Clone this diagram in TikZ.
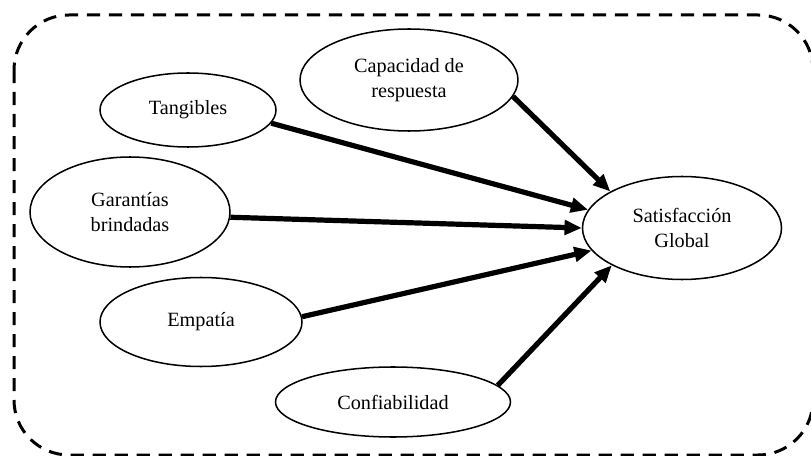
\documentclass[tikz,border=0pt]{standalone}
\usepackage{fontspec}
\setmainfont{Liberation Serif}
\usetikzlibrary{shapes.geometric,arrows.meta}

\begin{document}
\begin{tikzpicture}[x=0.25mm, y=-0.25mm, >={Triangle[length=4.3mm, width=3.6mm]}]

        \useasboundingbox (0,0) rectangle (811,456);
        \draw[dashed, line width=0.75mm, dash pattern=on 3.3mm off 2.2mm, rounded corners=13.75mm] (14,15) rectangle (813,455);

        \begin{scope}[every node/.style={ellipse,draw,line width=0.38mm,inner sep=0pt,align=center,font=\fontsize{14.4}{17.5}\selectfont}]
            \node[minimum width=49.75mm, minimum height=25.75mm] (1) at (682,228) {Satisfacción\\Global};
            \node[minimum width=44mm, minimum height=18.5mm] (2) at (188,110) {Tangibles};
            \node[minimum width=54.5mm, minimum height=25.5mm] (3) at (409,80) {Capacidad de\\respuesta};
            \node[minimum width=50mm, minimum height=27.5mm] (4) at (130,212) {Garantías\\brindadas};
            \node[minimum width=50.5mm, minimum height=22.25mm] (5) at (201,322) {Empatía};
            \node[minimum width=58.75mm, minimum height=17.5mm] (6) at (393,402) {Confiabilidad};
        \end{scope}

        \begin{scope}[every edge/.style={draw,line width=1.3mm}]
            \path [->] (2.-9) edge (1.169);
            \path [->] (3.-9.5) edge (1.153);
            \path [->] (4.-3) edge (1.180);
            \path [->] (5.3.5) edge (1.194);
            \path [->] (6.9.5) edge (1.208.5);
        \end{scope}

\end{tikzpicture}
\end{document}
